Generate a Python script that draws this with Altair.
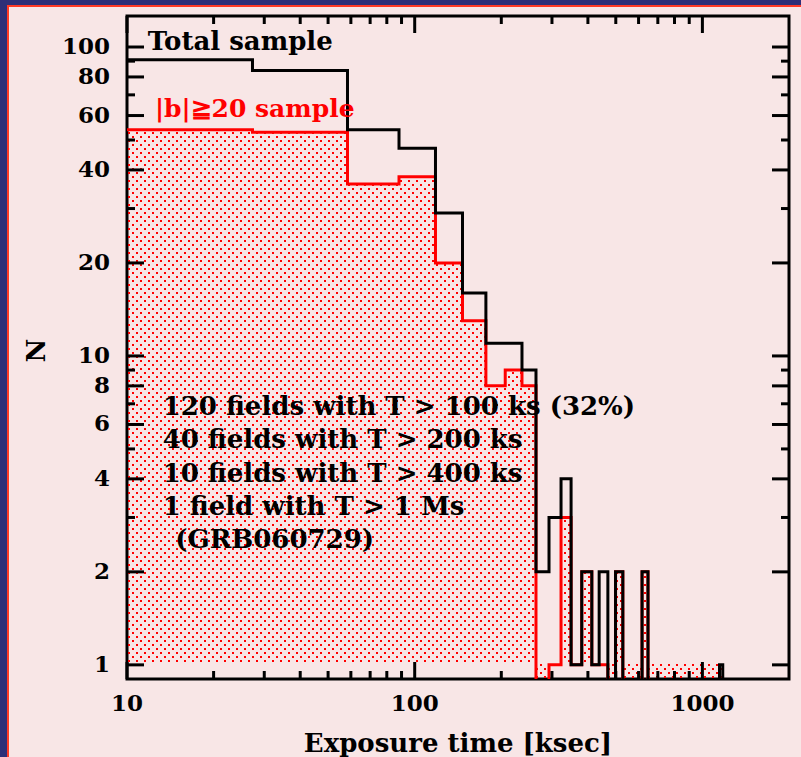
import numpy as np
import pandas as pd
import altair as alt

# ---- histogram of exposure times (ksec) ---------------------------------
bin_lo = [10, 27.3, 58.4, 88.2, 118.1, 146.6, 176.8, 206.4, 236.0, 264.0, 293.0,
          322.6, 349.6, 380.8, 412.7, 437.7, 469.3, 499.0, 529.0, 617.0, 647.0, 1147.0]
bin_hi = [27.3, 58.4, 88.2, 118.1, 146.6, 176.8, 206.4, 236.0, 264.0, 293.0, 322.6,
          349.6, 380.8, 412.7, 437.7, 469.3, 499.0, 529.0, 617.0, 647.0, 1147.0, 1177.0]
n_total = [91, 84, 54, 47, 29, 16, 11, 11, 9, 2, 3, 4, 1, 2, 1, 2, 0, 2, 0, 2, 0, 1]
n_highb = [54, 53, 36, 38, 20, 13, 8, 9, 8, 0, 1, 3, 1, 2, 1, 1, 0, 2, 0, 2, 0, 0]

# ---- tick positions / labels --------------------------------------------
x_major = [10, 100, 1000]
x_minor = [20, 30, 40, 50, 60, 70, 80, 90, 200, 300, 400, 500, 600, 700, 800, 900]
y_major = [1, 2, 4, 6, 8, 10, 20, 40, 60, 80, 100]
y_minor = [3, 5, 7, 9, 30, 50, 70, 90]
x_title = "Exposure time [ksec]"
y_title = "N"

# ---- annotations (data coordinates of the left end of each baseline) ----
note_text = ["Total sample",
             "120 fields with T > 100 ks (32%)",
             "40 fields with T > 200 ks",
             "10 fields with T > 400 ks",
             "1 field with T > 1 Ms",
             "(GRB060729)"]
note_t = [11.8, 13.3, 13.3, 13.3, 13.3, 14.7]
note_n = [97.7, 6.44, 5.03, 3.91, 3.05, 2.39]
red_text = ["|b|\u226720 sample"]
red_t = [12.5]
red_n = [59.3]

# ---- geometry ------------------------------------------------------------
W, H = 662, 663
X_DOM = [10, 2000]
Y_DOM = [0.9, 126]
FLOOR = 0.5          # empty bins are drawn below the visible range (clipped)
SERIF = "DejaVu Serif"
PINK = "#f8e6e6"
NAVY = "#2d2f78"

xs = alt.Scale(type="log", domain=X_DOM, nice=False)
ys = alt.Scale(type="log", domain=Y_DOM, nice=False)
X0 = alt.X("t:Q", scale=xs, axis=None)
Y0 = alt.Y("n:Q", scale=ys, axis=None)

lx0, lx1 = np.log10(X_DOM)
ly0, ly1 = np.log10(Y_DOM)


def t_at(px):
    """Exposure time at a horizontal pixel offset inside the plot."""
    return float(10 ** (lx0 + px / W * (lx1 - lx0)))


def n_at(py):
    """N at a vertical pixel offset from the top of the plot."""
    return float(10 ** (ly0 + (H - py) / H * (ly1 - ly0)))


def steps(counts):
    t = list(bin_lo) + [bin_hi[-1]]
    n = [c if c > 0 else FLOOR for c in counts] + [FLOOR]
    return pd.DataFrame({"t": t, "n": n})


# dotted shading of the |b|>=20 histogram (filled between the curve and N=1)
dots = []
pitch_y, pitch_x = 4, 8
for j, py in enumerate(range(H - 2, 0, -pitch_y)):
    off = (j % 2) * (pitch_x // 2)
    n = n_at(py)
    for px in range(2 + off, W, pitch_x):
        t = t_at(px)
        k = int(np.searchsorted(bin_hi, t))
        if k >= len(bin_hi):
            continue
        h = n_highb[k]
        if (h >= 1 and 1.0 <= n <= h) or (h == 0 and n <= 1.0):
            dots.append((t, n))
dots_df = pd.DataFrame(dots, columns=["t", "n"])

shade = alt.Chart(dots_df).mark_square(size=4, color="#ff0000", opacity=1,
                                       strokeWidth=0, clip=True).encode(x=X0, y=Y0)

red_line = alt.Chart(steps(n_highb)).mark_line(
    interpolate="step-after", color="#ff0000", strokeWidth=3, clip=True
).encode(x=X0, y=Y0)

black_line = alt.Chart(steps(n_total)).mark_line(
    interpolate="step-after", color="black", strokeWidth=3, clip=True
).encode(x=X0, y=Y0)

# inward-pointing tick marks on all four sides, as one table of segments
segs = []
for vals, length in ((x_major, 17), (x_minor, 8)):
    for v in vals:
        segs.append((v, v, Y_DOM[0], n_at(H - length)))      # bottom
        segs.append((v, v, Y_DOM[1], n_at(length)))          # top
for vals, length in ((y_major, 17), (y_minor, 8)):
    for v in vals:
        segs.append((X_DOM[0], t_at(length), v, v))          # left
        segs.append((X_DOM[1], t_at(W - length), v, v))      # right
tick_df = pd.DataFrame(segs, columns=["t", "t2", "n", "n2"])
ticks = alt.Chart(tick_df).mark_rule(color="black", strokeWidth=3, strokeCap="butt").encode(
    x=X0, x2="t2:Q", y=Y0, y2="n2:Q")

# tick labels and axis titles
label_style = dict(font=SERIF, fontWeight="bold", fontSize=23, color="black")
x_labels = alt.Chart(pd.DataFrame({"t": x_major, "lab": [str(v) for v in x_major]})).mark_text(
    align="center", baseline="top", **label_style
).encode(x=X0, y=alt.value(H + 14), text="lab:N")
y_labels = alt.Chart(pd.DataFrame({"n": y_major, "lab": [str(v) for v in y_major]})).mark_text(
    align="right", baseline="middle", **label_style
).encode(y=Y0, x=alt.value(-17), text="lab:N")

one = pd.DataFrame({"k": [0]})
x_title_mark = alt.Chart(one).mark_text(
    align="center", baseline="alphabetic", font=SERIF, fontWeight="bold",
    fontSize=26, color="black", text=x_title
).encode(x=alt.value(W / 2), y=alt.value(73 + H))
y_title_mark = alt.Chart(one).mark_text(
    align="center", baseline="middle", font=SERIF, fontWeight="bold",
    fontSize=26, color="black", angle=270, text=y_title
).encode(x=alt.value(-90), y=alt.value(H / 2 + 3))

notes = alt.Chart(pd.DataFrame({"t": note_t, "n": note_n, "label": note_text})).mark_text(
    align="left", baseline="alphabetic", font=SERIF, fontWeight="bold",
    fontSize=26, color="black"
).encode(x=X0, y=Y0, text="label:N")

red_note = alt.Chart(pd.DataFrame({"t": red_t, "n": red_n, "label": red_text})).mark_text(
    align="left", baseline="alphabetic", font=SERIF, fontWeight="bold",
    fontSize=25, color="#ff0000"
).encode(x=X0, y=Y0, text="label:N")

# slide frame: navy band with a thin red edge along the top and left sides
frame = [
    alt.Chart(one).mark_rect(color=NAVY).encode(
        x=alt.value(-127), x2=alt.value(-120), y=alt.value(-16), y2=alt.value(H + 78)),
    alt.Chart(one).mark_rect(color=NAVY).encode(
        x=alt.value(-127), x2=alt.value(W + 12), y=alt.value(-16), y2=alt.value(-11)),
    alt.Chart(one).mark_rect(color="#ff3a26").encode(
        x=alt.value(-120), x2=alt.value(-118), y=alt.value(-11), y2=alt.value(H + 78)),
    alt.Chart(one).mark_rect(color="#ff3a26").encode(
        x=alt.value(-120), x2=alt.value(W + 12), y=alt.value(-11), y2=alt.value(-9)),
]

chart = alt.layer(
    *frame, shade, red_line, black_line,
    x_labels, y_labels, x_title_mark, y_title_mark, notes, red_note, ticks
).properties(
    width=W, height=H,
    padding={"left": 127, "top": 16, "right": 12, "bottom": 78},
    autosize=alt.AutoSizeParams(type="none"),
).configure(
    background=PINK, font=SERIF
).configure_view(
    stroke="black", strokeWidth=3
)

chart.save("out.html", embed_options={"renderer": "svg", "actions": False})
